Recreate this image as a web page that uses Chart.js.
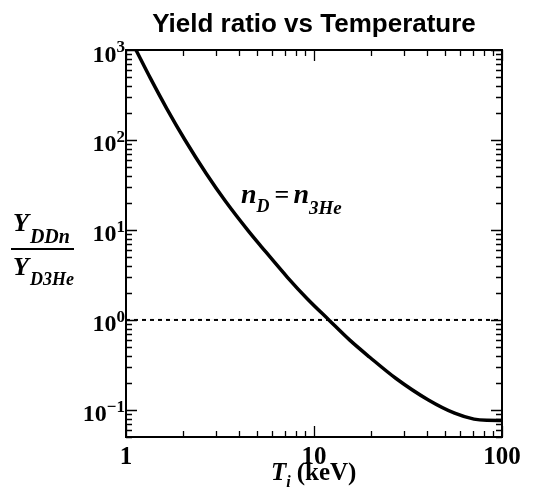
<!DOCTYPE html>
<html>
<head>
<meta charset="utf-8">
<script src="https://cdn.jsdelivr.net/npm/chart.js@4.4.1/dist/chart.umd.min.js"></script>
<style>
  html, body { margin: 0; padding: 0; background: #fff; }
  #chart { display: block; }
</style>
</head>
<body>
<canvas id="chart" width="534" height="502"></canvas>
<script>
  'use strict';

  // Ion temperature (keV) and yield ratio Y_DDn / Y_D3He
  var tempKeV = [1.13, 1.35, 1.65, 2.06, 2.67, 3.39, 4.45, 5.27, 7.26, 9.23, 12.0, 15.5, 19.8, 27.2, 40.6, 56, 71, 83, 100];
  var yieldRatio = [1000, 483, 222, 100, 42.4, 20.7, 9.9, 6.46, 2.94, 1.71, 1.0, 0.596, 0.385, 0.225, 0.129, 0.092, 0.079, 0.0767, 0.0765];

  // reference line at ratio = 1
  var refTemp = [1, 100];
  var refRatio = [1, 1];

  // axis limits and labelled ticks
  var xRange = [1, 100];
  var yRange = [0.05, 1000];
  var xTickLabels = ['1', '10', '100'];
  var yTickExponents = ['3', '2', '1', '0', '\u22121'];

  var SERIF = "'Liberation Serif', 'Times New Roman', serif";
  var SANS = "'Liberation Sans', Arial, sans-serif";

  function isPow10(v) {
    var l = Math.log10(v);
    return Math.abs(l - Math.round(l)) < 1e-9;
  }

  // draws a run of text pieces, each with its own font and baseline shift
  function drawRun(ctx, x, y, parts) {
    parts.forEach(function (p) {
      ctx.font = p.font;
      ctx.fillText(p.text, x + (p.dx || 0), y + (p.dy || 0));
      x += (p.dx || 0) + ctx.measureText(p.text).width;
    });
  }

  // frame, inside ticks and the text that Chart.js cannot typeset
  var framePlugin = {
    id: 'frameAndText',
    afterDraw: function (chart) {
      var ctx = chart.ctx;
      var area = chart.chartArea;
      var xs = chart.scales.x;
      var ys = chart.scales.y;

      ctx.save();
      ctx.strokeStyle = '#000';
      ctx.fillStyle = '#000';

      // ticks on all four sides, pointing inwards
      ctx.lineWidth = 1.3;
      ctx.beginPath();
      var d, k, v, p, len;
      for (d = Math.floor(Math.log10(xs.min)); d <= Math.ceil(Math.log10(xs.max)); d++) {
        for (k = 1; k <= 9; k++) {
          v = k * Math.pow(10, d);
          if (v < xs.min || v > xs.max) continue;
          p = Math.round(xs.getPixelForValue(v)) + 0.5;
          len = k === 1 ? 11 : 6;
          ctx.moveTo(p, area.bottom); ctx.lineTo(p, area.bottom - len);
          ctx.moveTo(p, area.top); ctx.lineTo(p, area.top + len);
        }
      }
      for (d = Math.floor(Math.log10(ys.min)); d <= Math.ceil(Math.log10(ys.max)); d++) {
        for (k = 1; k <= 9; k++) {
          v = k * Math.pow(10, d);
          if (v < ys.min * 0.999 || v > ys.max * 1.001) continue;
          p = Math.round(ys.getPixelForValue(v)) + 0.5;
          len = k === 1 ? 11 : 6;
          ctx.moveTo(area.left, p); ctx.lineTo(area.left + len, p);
          ctx.moveTo(area.right, p); ctx.lineTo(area.right - len, p);
        }
      }
      ctx.stroke();

      // frame
      ctx.lineWidth = 2;
      ctx.strokeRect(area.left, area.top, area.right - area.left, area.bottom - area.top);

      // y tick labels 10^n with real superscripts
      ctx.textAlign = 'left';
      ctx.textBaseline = 'alphabetic';
      var xEnd = area.left - 1;
      yTickExponents.forEach(function (e) {
        var val = Math.pow(10, parseInt(e.replace('\u2212', '-'), 10));
        var py = ys.getPixelForValue(val);
        ctx.font = 'bold 17px ' + SERIF;
        var ws = ctx.measureText(e).width;
        ctx.fillText(e, xEnd - ws, py + 2);
        ctx.font = 'bold 24px ' + SERIF;
        var wb = ctx.measureText('10').width;
        ctx.fillText('10', xEnd - ws - wb, py + 11.5);
      });

      // title
      ctx.font = 'bold 26px ' + SANS;
      ctx.textAlign = 'center';
      ctx.fillText('Yield ratio vs Temperature', (area.left + area.right) / 2, 32);
      ctx.textAlign = 'left';

      // y axis title as a fraction
      var bi26 = 'bold italic 26px ' + SERIF;
      drawRun(ctx, 13, 231, [
        { text: 'Y', font: bi26 },
        { text: 'DDn', font: 'bold italic 20px ' + SERIF, dx: 1, dy: 12 }
      ]);
      ctx.lineWidth = 2;
      ctx.beginPath();
      ctx.moveTo(11, 249); ctx.lineTo(74, 249);
      ctx.stroke();
      drawRun(ctx, 13, 275, [
        { text: 'Y', font: bi26 },
        { text: 'D3He', font: 'bold italic 18px ' + SERIF, dx: 1, dy: 10 }
      ]);

      // x axis title
      drawRun(ctx, 271, 480, [
        { text: 'T', font: 'bold italic 25px ' + SERIF },
        { text: 'i', font: 'bold italic 16px ' + SERIF, dy: 7 },
        { text: '(keV)', font: 'bold 25px ' + SERIF, dx: 6 }
      ]);

      // curve annotation
      drawRun(ctx, 241, 203, [
        { text: 'n', font: 'bold italic 28px ' + SERIF },
        { text: 'D', font: 'bold italic 18px ' + SERIF, dy: 9 },
        { text: '=', font: 'bold 26px ' + SERIF, dx: 5 },
        { text: 'n', font: 'bold italic 28px ' + SERIF, dx: 4 },
        { text: '3He', font: 'bold italic 19px ' + SERIF, dy: 11 }
      ]);

      ctx.restore();
    }
  };

  function toPoints(xsArr, ysArr) {
    return xsArr.map(function (x, i) { return { x: x, y: ysArr[i] }; });
  }

  new Chart(document.getElementById('chart'), {
    type: 'line',
    data: {
      datasets: [
        {
          label: 'n_D = n_3He',
          data: toPoints(tempKeV, yieldRatio),
          borderColor: '#000',
          borderWidth: 3.5,
          pointRadius: 0,
          cubicInterpolationMode: 'monotone',
          fill: false
        },
        {
          label: 'ratio = 1',
          data: toPoints(refTemp, refRatio),
          borderColor: '#000',
          borderWidth: 2,
          borderDash: [4, 4],
          pointRadius: 0,
          fill: false
        }
      ]
    },
    options: {
      responsive: false,
      animation: false,
      layout: { padding: { left: 0, right: 32, top: 50, bottom: 0 } },
      plugins: {
        legend: { display: false },
        tooltip: { enabled: false },
        title: { display: false }
      },
      scales: {
        x: {
          type: 'logarithmic',
          min: xRange[0],
          max: xRange[1],
          grid: { display: false, drawTicks: false },
          border: { display: false },
          ticks: {
            autoSkip: false,
            maxRotation: 0,
            padding: 6,
            color: '#000',
            font: { family: SERIF, size: 25, weight: 'bold' },
            callback: function (value) {
              if (!isPow10(value)) return '';
              var s = String(Math.round(value));
              return xTickLabels.indexOf(s) >= 0 ? s : '';
            }
          },
          afterFit: function (scale) { scale.height = 65; }
        },
        y: {
          type: 'logarithmic',
          min: yRange[0],
          max: yRange[1],
          grid: { display: false, drawTicks: false },
          border: { display: false },
          ticks: { display: false },
          afterFit: function (scale) { scale.width = 126; }
        }
      }
    },
    plugins: [framePlugin]
  });
</script>
</body>
</html>
